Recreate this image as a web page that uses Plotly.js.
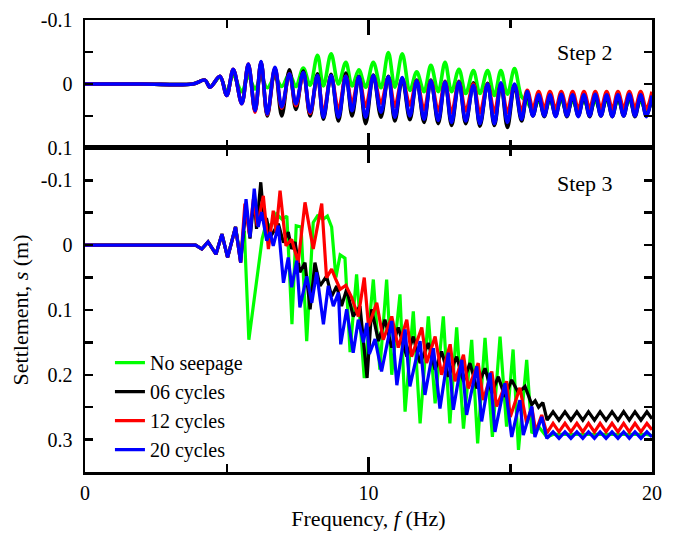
<!DOCTYPE html>
<html>
<head>
<meta charset="utf-8">
<script src="https://cdn.plot.ly/plotly-3.0.1.min.js"></script>
<style>html,body{margin:0;padding:0;background:#fff;}#chart{width:676px;height:534px;}</style>
</head>
<body>
<div id="chart"></div>
<script>
// ---------- Step 2 (top panel): shared frequency positions ----------
const fTop = [0, 2, 3.8,
  4.23, 4.41, 4.76, 5.0, 5.23, 5.53, 5.76, 6.0, 6.21, 6.43,
  6.70, 6.94, 7.21, 7.44, 7.70, 7.94, 8.2, 8.41, 8.68, 8.94,
  9.2, 9.42, 9.66, 9.9, 10.17, 10.44, 10.7, 10.93, 11.19, 11.46,
  11.7, 11.96, 12.2, 12.46, 12.7, 12.93, 13.19, 13.43, 13.7, 13.93,
  14.2, 14.44, 14.67, 14.9, 15.15, 15.4,
  15.6, 15.8, 16.0, 16.2, 16.4, 16.6, 16.8, 17.0, 17.2, 17.4,
  17.6, 17.8, 18.0, 18.2, 18.4, 18.6, 18.8, 19.0, 19.2, 19.4,
  19.6, 19.8, 20.0];

const s2Green = [0, 0, 0,
  -0.006, 0.004, -0.010, 0.012, -0.014, 0.012, -0.012, 0.008, -0.010, 0.006,
  -0.010, 0.004, -0.016, 0.004, -0.025, 0.002, -0.045, 0.003, -0.047, 0.000,
  -0.034, 0.003, -0.022, 0.005, -0.034, 0.006, -0.049, 0.005, -0.047, 0.010,
  -0.019, 0.012, -0.029, 0.012, -0.034, 0.012, -0.023, 0.015, -0.021, 0.015,
  -0.021, 0.018, -0.021, 0.016, -0.024, 0.020,
  0.028, 0.043, 0.026, 0.045, 0.026, 0.044, 0.025, 0.045, 0.026, 0.044,
  0.025, 0.045, 0.026, 0.044, 0.025, 0.045, 0.026, 0.044, 0.025, 0.045,
  0.026, 0.044, 0.025];

const s2Black = [0, 0, 0,
  -0.006, 0.005, -0.012, 0.018, -0.022, 0.030, -0.030, 0.042, -0.034, 0.050,
  -0.024, 0.050, -0.022, 0.040, -0.020, 0.050, -0.016, 0.055, -0.015, 0.058,
  -0.017, 0.050, -0.012, 0.062, -0.014, 0.052, -0.012, 0.058, -0.008, 0.056,
  -0.006, 0.060, -0.006, 0.062, -0.004, 0.065, -0.004, 0.062, -0.002, 0.066,
  -0.001, 0.065, 0.000, 0.068, 0.002, 0.058,
  0.014, 0.050, 0.019, 0.051, 0.019, 0.050, 0.018, 0.051, 0.019, 0.050,
  0.019, 0.051, 0.018, 0.050, 0.019, 0.051, 0.019, 0.050, 0.018, 0.051,
  0.019, 0.050, 0.020];

const s2Red = [0, 0, 0,
  -0.006, 0.005, -0.012, 0.018, -0.023, 0.031, -0.031, 0.044, -0.034, 0.048,
  -0.025, 0.038, -0.016, 0.034, -0.017, 0.046, -0.012, 0.045, -0.012, 0.040,
  -0.012, 0.030, -0.010, 0.035, -0.012, 0.030, -0.010, 0.035, -0.008, 0.033,
  -0.005, 0.040, -0.005, 0.042, -0.003, 0.045, -0.003, 0.042, 0.000, 0.045,
  0.000, 0.044, 0.000, 0.045, 0.002, 0.042,
  0.010, 0.038, 0.012, 0.038, 0.012, 0.039, 0.012, 0.038, 0.012, 0.039,
  0.012, 0.038, 0.012, 0.038, 0.012, 0.039, 0.012, 0.038, 0.012, 0.038,
  0.012, 0.039, 0.012];

const s2Blue = [0, 0, 0,
  -0.006, 0.005, -0.012, 0.018, -0.023, 0.031, -0.031, 0.042, -0.035, 0.047,
  -0.026, 0.036, -0.016, 0.031, -0.018, 0.044, -0.013, 0.052, -0.013, 0.052,
  -0.012, 0.042, -0.011, 0.052, -0.013, 0.044, -0.011, 0.052, -0.010, 0.050,
  -0.005, 0.055, -0.005, 0.057, -0.003, 0.060, -0.003, 0.058, 0.002, 0.062,
  0.000, 0.062, -0.002, 0.060, 0.000, 0.055,
  0.012, 0.050, 0.017, 0.050, 0.017, 0.051, 0.016, 0.050, 0.017, 0.051,
  0.017, 0.050, 0.016, 0.050, 0.017, 0.051, 0.017, 0.050, 0.016, 0.050,
  0.017, 0.051, 0.018];

// ---------- Step 3 (bottom panel) ----------
const f3Green = [0, 3.7, 3.9, 4.12, 4.34, 4.62, 4.83, 5.03, 5.31, 5.47,
  5.62, 5.78, 6.0, 6.25, 6.4, 6.55, 6.75, 6.95, 7.12, 7.3,
  7.45, 7.62, 7.82, 8.05, 8.2, 8.4, 8.55, 8.7, 8.85, 9.0,
  9.17, 9.35, 9.58, 9.85, 10.17, 10.4, 10.64, 10.82, 11.11, 11.29,
  11.58, 11.82, 12.11, 12.35, 12.64, 12.87, 13.11, 13.35, 13.64, 13.85,
  14.11, 14.37, 14.64, 14.87, 15.1, 15.29, 15.58, 15.76, 16.0, 16.29,
  16.51, 16.93, 17.35, 17.76, 18.17, 18.59, 19.0, 19.4, 19.82, 20];
const s3Green = [0, 0, 0, 0.006, -0.005, 0.014, -0.017, 0.019, -0.028, 0.015,
  -0.022, 0.146, 0.070, -0.010, -0.035, -0.028, -0.048, -0.040, -0.045, 0.122,
  -0.030, -0.028, 0.148, -0.035, -0.045, -0.040, -0.045, -0.028, 0.050, 0.015,
  0.020, 0.165, 0.045, 0.205, 0.053, 0.192, 0.053, 0.200, 0.076, 0.257,
  0.102, 0.275, 0.110, 0.244, 0.110, 0.275, 0.127, 0.283, 0.146, 0.306,
  0.143, 0.296, 0.141, 0.280, 0.161, 0.316, 0.177, 0.290, 0.280, 0.296,
  0.292, 0.292, 0.292, 0.292, 0.292, 0.292, 0.292, 0.292, 0.292, 0.294];

const f3Black = [0, 3.7, 3.9, 4.12, 4.34, 4.62, 4.83, 5.03, 5.31, 5.49,
  5.68, 5.82, 5.97, 6.05, 6.2, 6.3, 6.41, 6.53, 6.64, 6.82,
  7.0, 7.17, 7.29, 7.41, 7.58, 7.76, 7.94, 8.11, 8.29, 8.52,
  8.7, 8.88, 9.05, 9.23, 9.46, 9.7, 9.95, 10.11, 10.35, 10.58,
  10.82, 11.05, 11.35, 11.58, 11.82, 12.11, 12.35, 12.58, 12.82, 13.11,
  13.35, 13.58, 13.82, 14.11, 14.35, 14.58, 14.81, 15.05, 15.29, 15.52,
  15.76, 15.88, 16.0, 16.15, 16.3, 16.51, 16.72, 16.93, 17.14, 17.35,
  17.56, 17.76, 17.97, 18.17, 18.38, 18.59, 18.8, 19.0, 19.2, 19.4,
  19.61, 19.82, 20];
const s3Black = [0, 0, 0, 0.006, -0.005, 0.014, -0.017, 0.019, -0.028, 0.027,
  -0.060, -0.010, -0.075, -0.025, -0.097, -0.045, -0.040, -0.012, -0.020, -0.033,
  -0.004, -0.020, 0.006, -0.005, 0.042, 0.027, 0.099, 0.027, 0.063, 0.048,
  0.079, 0.063, 0.094, 0.068, 0.110, 0.094, 0.205, 0.099, 0.148, 0.115,
  0.158, 0.127, 0.172, 0.141, 0.182, 0.151, 0.192, 0.164, 0.203, 0.172,
  0.210, 0.182, 0.221, 0.190, 0.228, 0.203, 0.234, 0.208, 0.228, 0.218,
  0.246, 0.240, 0.250, 0.243, 0.270, 0.257, 0.270, 0.257, 0.270, 0.257,
  0.270, 0.257, 0.270, 0.257, 0.270, 0.257, 0.270, 0.257, 0.270, 0.257,
  0.270, 0.257, 0.268];

const f3Red = [0, 3.7, 3.9, 4.12, 4.34, 4.62, 4.83, 5.03, 5.31, 5.49,
  5.64, 5.8, 5.94, 6.08, 6.29, 6.47, 6.64, 6.74, 6.88, 7.09,
  7.29, 7.52, 7.76, 8.05, 8.35, 8.52, 8.7, 8.82, 9.0, 9.2,
  9.4, 9.64, 9.85, 10.0, 10.29, 10.52, 10.82, 11.05, 11.35, 11.52,
  11.88, 12.05, 12.35, 12.58, 12.88, 13.05, 13.35, 13.52, 13.87, 14.05,
  14.35, 14.52, 14.87, 15.0, 15.34, 15.58, 15.76, 15.9, 16.11, 16.29,
  16.51, 16.72, 16.93, 17.14, 17.35, 17.56, 17.76, 17.97, 18.17, 18.38,
  18.59, 18.8, 19.0, 19.2, 19.4, 19.61, 19.82, 20];
const s3Red = [0, 0, 0, 0.006, -0.005, 0.014, -0.017, 0.019, -0.028, 0.027,
  -0.064, -0.017, -0.071, -0.030, -0.076, 0.006, -0.053, -0.020, -0.084, 0.001,
  -0.009, 0.027, -0.066, 0.006, -0.064, 0.050, 0.037, 0.050, 0.068, 0.062,
  0.080, 0.110, 0.050, 0.125, 0.089, 0.146, 0.110, 0.158, 0.115, 0.172,
  0.127, 0.182, 0.141, 0.200, 0.153, 0.210, 0.169, 0.221, 0.182, 0.239,
  0.195, 0.249, 0.210, 0.265, 0.220, 0.275, 0.250, 0.288, 0.262, 0.290,
  0.275, 0.288, 0.275, 0.288, 0.275, 0.288, 0.275, 0.288, 0.275, 0.288,
  0.275, 0.288, 0.275, 0.288, 0.275, 0.288, 0.275, 0.285];

const f3Blue = [0, 3.7, 3.9, 4.12, 4.34, 4.62, 4.83, 5.03, 5.31, 5.49,
  5.68, 5.82, 5.97, 6.11, 6.23, 6.41, 6.53, 6.64, 6.82, 7.0,
  7.17, 7.29, 7.47, 7.58, 7.82, 8.0, 8.17, 8.41, 8.58, 8.76,
  8.94, 9.02, 9.23, 9.46, 9.64, 9.82, 9.94, 10.03, 10.23, 10.46,
  10.82, 11.0, 11.29, 11.46, 11.82, 11.99, 12.29, 12.52, 12.82, 12.99,
  13.29, 13.46, 13.82, 13.99, 14.29, 14.46, 14.81, 15.05, 15.34, 15.46,
  15.76, 15.87, 16.11, 16.29, 16.51, 16.72, 16.93, 17.14, 17.35, 17.56,
  17.76, 17.97, 18.17, 18.38, 18.59, 18.8, 19.0, 19.2, 19.4, 19.61,
  19.82, 20];
const s3Blue = [0, 0, 0, 0.006, -0.005, 0.014, -0.017, 0.019, -0.028, 0.027,
  -0.071, -0.012, -0.087, -0.028, -0.051, -0.007, -0.020, 0.001, -0.030, 0.058,
  0.019, 0.065, 0.024, 0.096, 0.048, 0.089, 0.042, 0.122, 0.063, 0.094,
  0.073, 0.153, 0.099, 0.166, 0.115, 0.150, 0.120, 0.168, 0.145, 0.195,
  0.117, 0.216, 0.130, 0.218, 0.148, 0.231, 0.159, 0.252, 0.166, 0.254,
  0.177, 0.262, 0.187, 0.272, 0.197, 0.288, 0.213, 0.296, 0.239, 0.293,
  0.249, 0.296, 0.265, 0.298, 0.288, 0.298, 0.288, 0.298, 0.288, 0.298,
  0.288, 0.298, 0.288, 0.298, 0.288, 0.298, 0.288, 0.298, 0.288, 0.298,
  0.288, 0.296];

const seriesNames = ['No seepage', '06 cycles', '12 cycles', '20 cycles'];
const seriesColors = ['#00ff00', '#000000', '#ff0000', '#0000ff'];
const panelLabels = ['Step 2', 'Step 3'];
const yTicksTop = [-0.1, -0.05, 0, 0.05, 0.1];
const yTextTop = ['-0.1', '', '0', '', '0.1'];
const yTicksBot = [-0.15, -0.1, -0.05, 0, 0.05, 0.1, 0.15, 0.2, 0.25, 0.3, 0.35];
const yTextBot = ['', '-0.1', '', '0', '', '0.1', '', '0.2', '', '0.3', ''];

const FONT = '"Liberation Serif", "Times New Roman", serif';
const topY = [s2Green, s2Black, s2Red, s2Blue];
const botX = [f3Green, f3Black, f3Red, f3Blue];
const botY = [s3Green, s3Black, s3Red, s3Blue];

const traces = [];
for (let i = 0; i < 4; i++) {
  traces.push({
    x: fTop, y: topY[i], xaxis: 'x2', yaxis: 'y', type: 'scatter', mode: 'lines',
    line: {color: seriesColors[i], width: 3.6, shape: 'spline', smoothing: 1},
    showlegend: false, hoverinfo: 'skip'
  });
}
for (let i = 0; i < 4; i++) {
  traces.push({
    x: botX[i], y: botY[i], xaxis: 'x', yaxis: 'y2', type: 'scatter', mode: 'lines',
    name: seriesNames[i],
    line: {color: seriesColors[i], width: 3.2},
    hoverinfo: 'skip'
  });
}

const split = 0.717;
const axCommon = {
  showline: true, linecolor: '#000', linewidth: 2.5, mirror: 'ticks',
  ticks: 'inside', tickcolor: '#000', tickwidth: 2.5,
  showgrid: false, zeroline: false,
  tickfont: {family: FONT, size: 20, color: '#000'}
};

const layout = {
  width: 676, height: 534,
  margin: {l: 85, r: 24, t: 20, b: 62},
  paper_bgcolor: '#fff', plot_bgcolor: '#fff',
  font: {family: FONT, color: '#000'},
  showlegend: true,
  legend: {
    x: 0.044, y: 0.285, xanchor: 'left', yanchor: 'top',
    bgcolor: 'rgba(0,0,0,0)', borderwidth: 0,
    font: {family: FONT, size: 20, color: '#000'},
    tracegroupgap: 0
  },
  xaxis: Object.assign({}, axCommon, {
    anchor: 'y2', domain: [0, 1], range: [0, 20],
    tick0: 0, dtick: 10, ticklen: 15, ticklabelstandoff: 1,
    minor: {dtick: 5, ticks: 'inside', ticklen: 8, tickwidth: 2.5, tickcolor: '#000', showgrid: false},
    title: {text: 'Frequency, <i>f</i> (Hz)', font: {family: FONT, size: 22, color: '#000'}, standoff: 8}
  }),
  xaxis2: Object.assign({}, axCommon, {
    anchor: 'y', domain: [0, 1], range: [0, 20], matches: 'x',
    tick0: 0, dtick: 10, ticklen: 15, showticklabels: false,
    minor: {dtick: 5, ticks: 'inside', ticklen: 8, tickwidth: 2.5, tickcolor: '#000', showgrid: false}
  }),
  yaxis: Object.assign({}, axCommon, {
    anchor: 'x2', domain: [split, 1], range: [0.1, -0.1],
    tickmode: 'array', tickvals: yTicksTop, ticktext: yTextTop,
    ticklen: 8, ticklabelstandoff: 6
  }),
  yaxis2: Object.assign({}, axCommon, {
    anchor: 'x', domain: [0, split], range: [0.35, -0.15],
    tickmode: 'array', tickvals: yTicksBot, ticktext: yTextBot,
    ticklen: 8, ticklabelstandoff: 6,
    title: {text: 'Settlement, <i>s</i> (m)', font: {family: FONT, size: 22, color: '#000'}, standoff: 6}
  }),
  annotations: [
    {text: panelLabels[0], xref: 'paper', yref: 'paper', x: 0.882, y: 0.927,
     xanchor: 'center', yanchor: 'middle',
     showarrow: false, font: {family: FONT, size: 22, color: '#000'}},
    {text: panelLabels[1], xref: 'paper', yref: 'paper', x: 0.882, y: 0.639,
     xanchor: 'center', yanchor: 'middle',
     showarrow: false, font: {family: FONT, size: 22, color: '#000'}}
  ]
};

Plotly.newPlot('chart', traces, layout, {staticPlot: true, displayModeBar: false});
</script>
</body>
</html>
